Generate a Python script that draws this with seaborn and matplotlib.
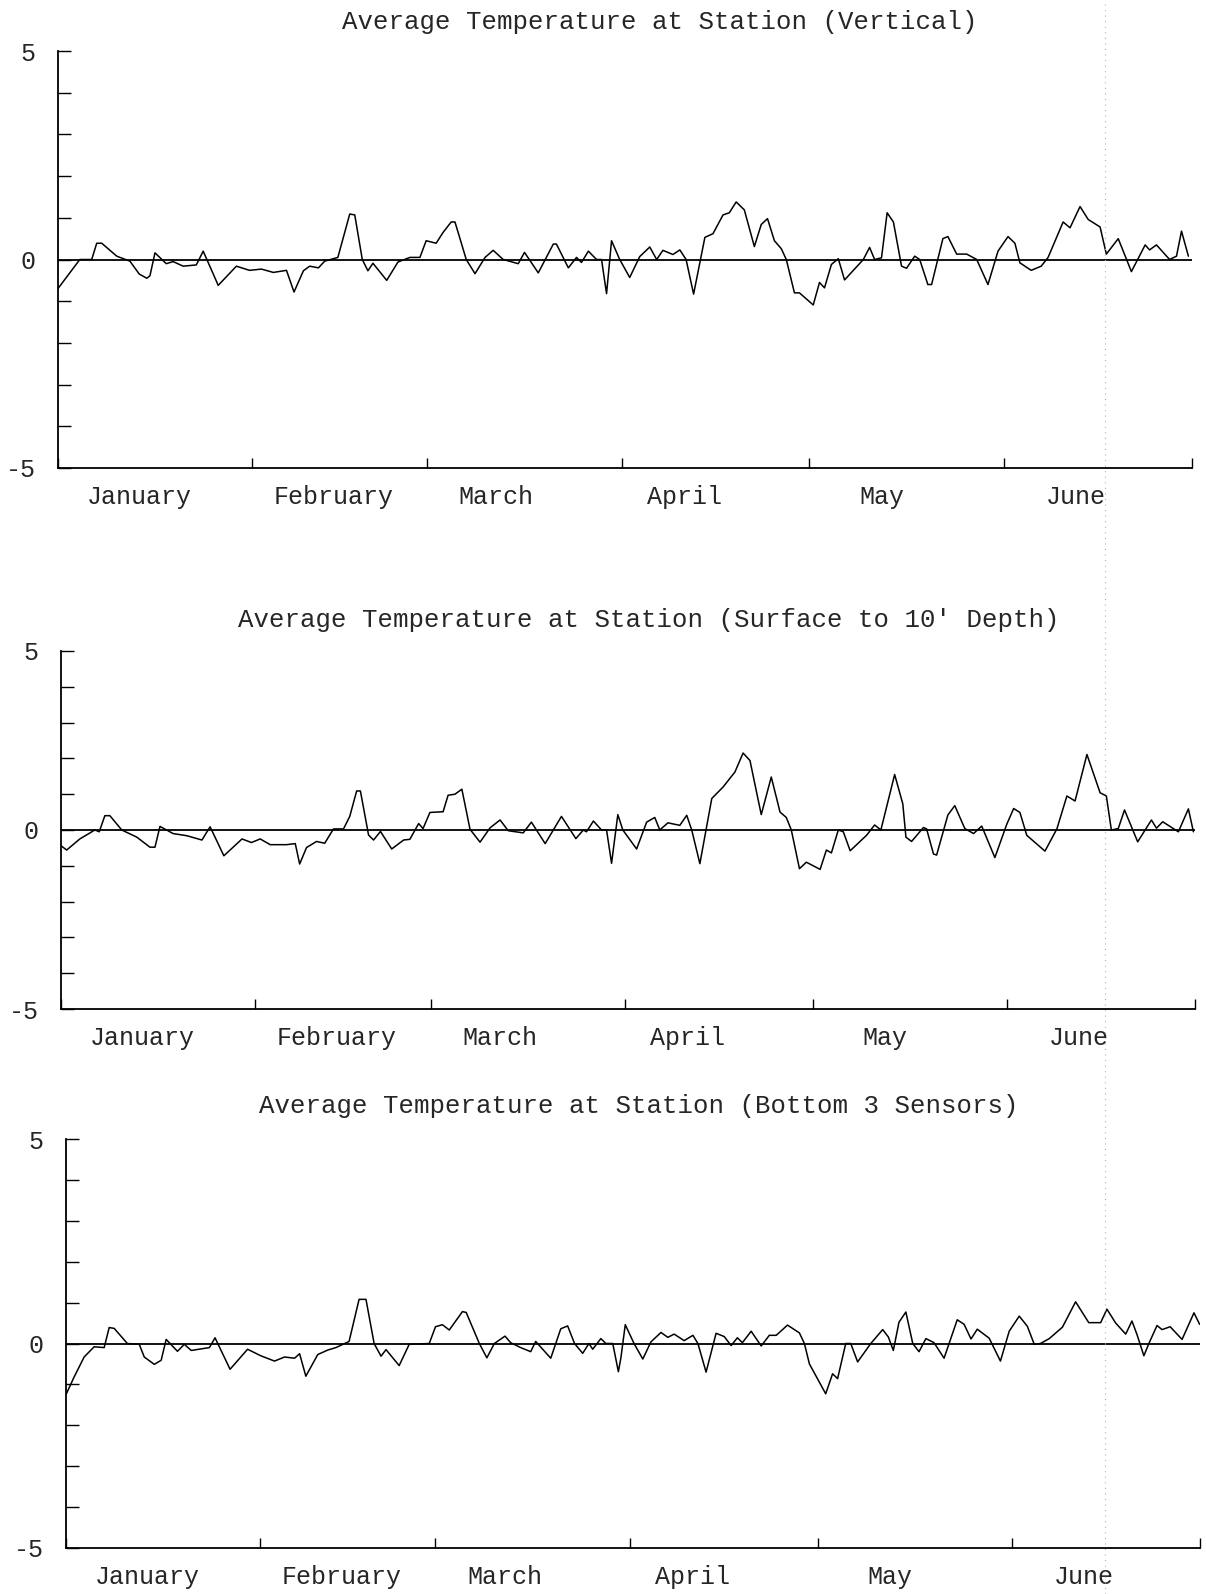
import matplotlib
matplotlib.use("Agg")
import matplotlib.pyplot as plt
from matplotlib.lines import Line2D
import seaborn as sns
import pandas as pd

# ---------------- data ----------------
titles = [
    "Average Temperature at Station (Vertical)",
    "Average Temperature at Station (Surface to 10' Depth)",
    "Average Temperature at Station (Bottom 3 Sensors)",
]
months = ["January", "February", "March", "April", "May", "June"]
month_bounds = [0, 31, 59, 90, 120, 151, 181]
month_label_days = [13, 44, 70, 100, 131.5, 162.5]
y_tick_labels = ["-5", "0", "5"]

days_vertical = [
    0, 3.5, 5.4, 6.2, 7, 9.4, 11.5, 13, 14.2, 14.7,
    15.5, 17.3, 18.4, 20, 22.1, 23.2, 25.6, 28.5, 30.6, 32.5,
    34.4, 36.5, 37.7, 39.2, 40.2, 41.6, 42.6, 44.7, 46.6, 47.4,
    48.6, 49.5, 50.3, 52.5, 54.3, 56.2, 57.8, 58.8, 60.4, 61.5,
    62.8, 63.4, 65.2, 66.6, 68.2, 69.5, 71.1, 73.5, 74.5, 76.7,
    79.1, 79.6, 81.5, 82.8, 83.6, 84.7, 86, 86.8, 87.6, 88.4,
    89.7, 91.3, 92.9, 94.5, 95.6, 96.6, 98.2, 99.3, 100.3, 101.5,
    103.3, 104.6, 106.2, 107.2, 108.3, 109.6, 111.2, 112.3, 113.3, 114.4,
    115.5, 116.3, 117.6, 118.4, 120.6, 121.6, 122.4, 123.5, 124.6, 125.6,
    128.6, 129.6, 130.4, 131.5, 132.4, 133.4, 134.7, 135.5, 136.8, 137.6,
    138.9, 139.5, 141.3, 142.1, 143.5, 145.1, 146.7, 148.5, 150.1, 151.7,
    152.8, 153.6, 155.4, 157, 158.1, 160.5, 161.6, 163.2, 164.5, 166.4,
    167.4, 169.3, 171.4, 173.6, 174.3, 175.4, 177.5, 178.6, 179.4, 180.5,
]
temp_vertical = [
    -0.7, 0.0, 0.0, 0.39, 0.39, 0.08, -0.04, -0.35, -0.45, -0.39,
    0.16, -0.1, -0.05, -0.16, -0.13, 0.2, -0.62, -0.16, -0.26, -0.23,
    -0.31, -0.26, -0.78, -0.27, -0.16, -0.2, -0.04, 0.05, 1.09, 1.07,
    0.0, -0.27, -0.09, -0.5, -0.06, 0.05, 0.05, 0.45, 0.39, 0.65,
    0.9, 0.9, 0.0, -0.34, 0.05, 0.22, 0.0, -0.1, 0.17, -0.32,
    0.37, 0.37, -0.2, 0.05, -0.07, 0.2, 0.0, 0.0, -0.82, 0.45,
    0.0, -0.43, 0.07, 0.3, 0.0, 0.22, 0.12, 0.23, 0.0, -0.83,
    0.53, 0.62, 1.07, 1.12, 1.38, 1.19, 0.31, 0.84, 0.98, 0.45,
    0.26, 0.0, -0.8, -0.8, -1.09, -0.55, -0.68, -0.12, 0.02, -0.49,
    0.0, 0.29, 0.0, 0.04, 1.12, 0.9, -0.16, -0.21, 0.08, 0.0,
    -0.6, -0.6, 0.5, 0.55, 0.13, 0.13, 0.0, -0.6, 0.2, 0.55,
    0.39, -0.08, -0.26, -0.16, 0.05, 0.9, 0.76, 1.27, 0.96, 0.78,
    0.13, 0.5, -0.29, 0.35, 0.23, 0.35, 0.0, 0.08, 0.68, 0.08,
]

days_surface = [
    0, 0.9, 3, 5.4, 6.1, 7, 7.8, 9.7, 12.1, 14.2,
    15, 15.8, 17.9, 20.1, 22.5, 23.8, 26, 28.9, 30.4, 31.8,
    33.4, 36, 37.4, 38.1, 39.2, 40.8, 42.1, 43.5, 45.1, 46.1,
    47.2, 47.8, 49.1, 49.9, 51, 52.8, 54.7, 55.7, 57.1, 57.8,
    58.9, 61, 61.8, 62.9, 64, 65.3, 66.9, 68.5, 70.1, 71.4,
    73.8, 75.1, 77.3, 79.9, 82.2, 83.4, 83.9, 85, 86.3, 87.1,
    87.9, 88.9, 89.7, 91.9, 93.5, 94.8, 95.6, 96.9, 98.8, 99.9,
    100.7, 102, 103.9, 105.7, 107.6, 108.9, 110, 111.8, 113.4, 114.8,
    115.8, 116.6, 117.9, 119, 121.2, 122.2, 123, 124.1, 124.9, 126,
    128.6, 129.9, 130.9, 133.1, 134.4, 134.9, 135.8, 137.7, 138.2, 139.3,
    139.8, 141.6, 142.7, 144.3, 145.7, 147, 149.1, 151, 152.1, 153.1,
    154.2, 157.1, 159, 160.6, 161.9, 163.8, 165.9, 166.9, 167.7, 168.8,
    169.8, 171.9, 174.1, 174.9, 175.9, 178.4, 180, 180.8,
]
temp_surface = [
    -0.44, -0.56, -0.25, 0.0, -0.05, 0.4, 0.4, 0.0, -0.2, -0.48,
    -0.48, 0.1, -0.1, -0.16, -0.28, 0.09, -0.72, -0.25, -0.35, -0.25,
    -0.41, -0.41, -0.38, -0.95, -0.49, -0.32, -0.37, 0.03, 0.03, 0.38,
    1.09, 1.09, -0.14, -0.28, -0.04, -0.53, -0.28, -0.26, 0.18, 0.04,
    0.49, 0.51, 0.97, 1.0, 1.14, 0.02, -0.34, 0.06, 0.28, -0.02,
    -0.08, 0.22, -0.38, 0.38, -0.24, 0.0, -0.05, 0.25, 0.0, 0.0,
    -0.93, 0.43, 0.0, -0.53, 0.22, 0.35, 0.0, 0.2, 0.13, 0.41,
    0.0, -0.94, 0.88, 1.2, 1.62, 2.15, 1.94, 0.43, 1.48, 0.5,
    0.35, 0.0, -1.08, -0.9, -1.1, -0.56, -0.64, 0.0, -0.05, -0.58,
    -0.15, 0.14, 0.0, 1.55, 0.73, -0.2, -0.32, 0.07, 0.03, -0.67,
    -0.7, 0.42, 0.68, 0.04, -0.1, 0.11, -0.77, 0.16, 0.6, 0.49,
    -0.15, -0.59, 0.03, 0.95, 0.81, 2.11, 1.04, 0.95, 0.0, 0.04,
    0.56, -0.33, 0.28, 0.05, 0.23, -0.05, 0.59, -0.05,
]

days_bottom = [
    0, 1.3, 2.9, 4.5, 6.1, 6.9, 7.7, 9.8, 11.7, 12.5,
    14.1, 15.2, 16, 17.8, 18.9, 20, 22.9, 23.8, 26.2, 29,
    31.1, 33.3, 34.9, 36.5, 37.3, 38.3, 40.2, 41.8, 43.1, 45.2,
    46.8, 47.9, 49.2, 50.3, 51.1, 53.2, 54.8, 58, 59, 60.1,
    61.2, 63.3, 63.9, 66, 67.2, 68.4, 70.1, 71, 72.6, 74.2,
    75, 77.4, 79, 80.1, 81.2, 82.5, 83.5, 84.1, 85.4, 86.2,
    87.3, 88.2, 88.6, 89.3, 90.7, 92.1, 93.4, 95, 96.1, 97.1,
    98.7, 100.1, 100.9, 102.2, 103.8, 105.1, 106.2, 107.2, 108, 109.4,
    111, 112.3, 113.4, 115.2, 117.1, 117.9, 118.7, 121.3, 122.4, 123.2,
    124.5, 125.3, 126.4, 128.5, 130.4, 131.3, 132.1, 133, 134.1, 135.2,
    136.2, 137.3, 138.6, 140.2, 142.3, 143.4, 144.5, 145.5, 147.4, 149.2,
    150.6, 152.2, 153.5, 154.6, 155.6, 157, 159.1, 161.2, 163.3, 165.2,
    166.2, 167.6, 169.2, 170.2, 171, 172.1, 172.9, 174.2, 175, 176.3,
    178.2, 180.1, 181,
]
temp_bottom = [
    -1.25, -0.82, -0.33, -0.08, -0.1, 0.39, 0.37, 0.0, -0.02, -0.33,
    -0.51, -0.41, 0.1, -0.19, -0.02, -0.17, -0.1, 0.14, -0.63, -0.14,
    -0.3, -0.43, -0.33, -0.36, -0.25, -0.8, -0.27, -0.16, -0.1, 0.05,
    1.08, 1.08, 0.0, -0.31, -0.15, -0.54, -0.02, 0.0, 0.41, 0.46,
    0.33, 0.78, 0.76, 0.0, -0.35, 0.0, 0.18, 0.02, -0.1, -0.2,
    0.05, -0.36, 0.36, 0.43, 0.0, -0.24, 0.0, -0.14, 0.12, 0.0,
    0.0, -0.69, -0.35, 0.46, 0.0, -0.38, 0.04, 0.27, 0.15, 0.23,
    0.07, 0.2, 0.0, -0.7, 0.25, 0.17, -0.05, 0.14, 0.02, 0.3,
    -0.06, 0.2, 0.2, 0.45, 0.26, 0.0, -0.5, -1.23, -0.74, -0.86,
    0.0, 0.0, -0.45, 0.0, 0.34, 0.16, -0.17, 0.52, 0.77, 0.0,
    -0.2, 0.12, 0.02, -0.36, 0.58, 0.47, 0.11, 0.35, 0.13, -0.43,
    0.3, 0.67, 0.42, -0.02, 0.0, 0.12, 0.4, 1.02, 0.51, 0.51,
    0.84, 0.5, 0.23, 0.55, 0.22, -0.3, 0.0, 0.44, 0.34, 0.41,
    0.1, 0.75, 0.47,
]

series = [
    (days_vertical, temp_vertical),
    (days_surface, temp_surface),
    (days_bottom, temp_bottom),
]

# ---------------- style ----------------
sns.set_theme(style="white")
plt.rcParams["font.family"] = ["Liberation Mono", "DejaVu Sans Mono"]

fig = plt.figure(figsize=(12.06, 15.94), dpi=100)
fig.patch.set_facecolor("white")

axes_rects = [
    [0.048, 0.7064, 0.940, 0.2616],
    [0.0506, 0.367, 0.940, 0.2246],
    [0.0547, 0.0289, 0.940, 0.2565],
]
title_pos = [(0.547, 0.986), (0.538, 0.611), (0.5295, 0.306)]

for rect, (xd, yd), title, tpos in zip(axes_rects, series, titles, title_pos):
    ax = fig.add_axes(rect)
    df = pd.DataFrame({"day": xd, "temp": yd})
    sns.lineplot(data=df, x="day", y="temp", ax=ax, color="black",
                 linewidth=1.1, estimator=None, sort=False)
    ax.axhline(0, color="black", linewidth=1.3)

    ax.set_xlim(month_bounds[0], month_bounds[-1])
    ax.set_ylim(-5, 5)
    ax.set_xlabel("")
    ax.set_ylabel("")

    for s in ("top", "right"):
        ax.spines[s].set_visible(False)
    for s in ("left", "bottom"):
        ax.spines[s].set_color("black")
        ax.spines[s].set_linewidth(1.3)

    ax.set_yticks([-5, 0, 5])
    ax.set_yticklabels(y_tick_labels)
    ax.set_yticks(list(range(-5, 6)), minor=True)
    ax.tick_params(axis="y", which="both", direction="in", length=9,
                   width=1.0, color="black", labelsize=18, pad=16,
                   left=True)

    ax.set_xticks(month_bounds)
    ax.set_xticklabels([""] * len(month_bounds))
    ax.tick_params(axis="x", which="major", direction="in", length=7,
                   width=1.0, color="black", bottom=True)
    ax.set_xticks(month_label_days, minor=True)
    ax.set_xticklabels(months, minor=True)
    ax.tick_params(axis="x", which="minor", length=0, labelsize=18, pad=12)

    fig.text(tpos[0], tpos[1], title, ha="center", va="center", fontsize=18.5)

# faint dotted fold line of the scanned page
fig.add_artist(Line2D([0.916, 0.916], [0.0, 1.0], transform=fig.transFigure,
                      color="0.7", linewidth=0.8, linestyle=(0, (1, 4))))

fig.savefig("out.png", dpi=100, facecolor="white")
